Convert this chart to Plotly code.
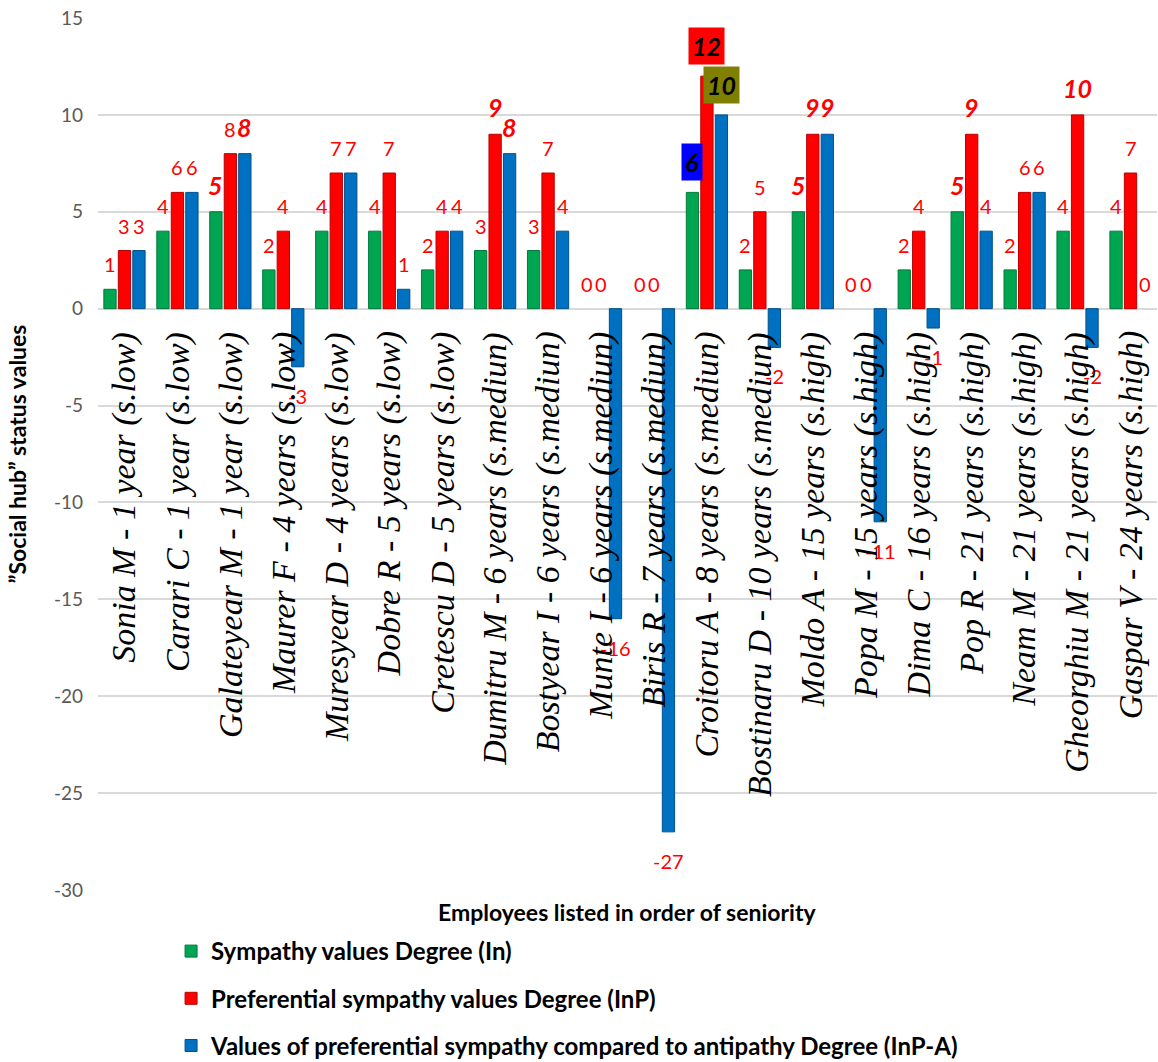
import plotly.graph_objects as go

# Employees, in order of seniority
employees = [
    "Sonia M - 1 year (s.low)",
    "Carari C - 1 year (s.low)",
    "Galateyear M - 1 year (s.low)",
    "Maurer F - 4 years (s.low)",
    "Muresyear D - 4 years (s.low)",
    "Dobre R - 5 years (s.low)",
    "Cretescu D - 5 years (s.low)",
    "Dumitru M - 6 years (s.mediun)",
    "Bostyear I - 6 years (s.mediun)",
    "Munte I - 6 years (s.mediun)",
    "Biris R - 7 years (s.mediun)",
    "Croitoru A - 8 years (s.mediun)",
    "Bostinaru D - 10 years (s.mediun)",
    "Moldo A - 15 years (s.high)",
    "Popa M - 15 years (s.high)",
    "Dima C - 16 years (s.high)",
    "Pop R - 21 years (s.high)",
    "Neam M - 21 years (s.high)",
    "Gheorghiu M - 21 years (s.high)",
    "Gaspar V - 24 years (s.high)",
]

sympathy_in = [1, 4, 5, 2, 4, 4, 2, 3, 3, 0, 0, 6, 2, 5, 0, 2, 5, 2, 4, 4]
preferential_inp = [3, 6, 8, 4, 7, 7, 4, 9, 7, 0, 0, 12, 5, 9, 0, 4, 9, 6, 10, 7]
pref_vs_antipathy = [3, 6, 8, -3, 7, 1, 4, 8, 4, -16, -27, 10, -2, 9, -11, -1, 4, 6, -2, 0]

series_names = [
    "Sympathy values Degree (In)",
    "Preferential sympathy values Degree (InP)",
    "Values of preferential sympathy compared to antipathy Degree (InP-A)",
]

y_ticks = [-30, -25, -20, -15, -10, -5, 0, 5, 10, 15]

# Labels drawn in bold italic (series index -> employee indices)
emphasised = {0: {2, 13, 16}, 1: {7, 13, 16, 18}, 2: {2, 7, 13}}
# Labels drawn as black text on a coloured box (series index -> (employee, box colour))
boxed = {0: (11, "#0000FF"), 1: (11, "#FF0000"), 2: (11, "#808000")}

fill_colors = ["#00A551", "#FF0000", "#0070C0"]
edge_colors = ["#007A3A", "#B80000", "#00508C"]

BARGAP = 0.18
LABEL_FONT = "Lato"

x_idx = list(range(len(employees)))
all_series = [sympathy_in, preferential_inp, pref_vs_antipathy]

fig = go.Figure()
for k, (vals, name) in enumerate(zip(all_series, series_names)):
    fig.add_trace(go.Bar(
        x=x_idx, y=vals, name=f"<b>{name}</b>",
        marker=dict(color=fill_colors[k],
                    line=dict(color=edge_colors[k],
                              width=[1 if v != 0 else 0 for v in vals])),
        legendgroup=f"g{k}",
    ))

annotations = []
slot = (1 - BARGAP) / 3
for k, vals in enumerate(all_series):
    for i, v in enumerate(vals):
        xpos = i + (k - 1) * slot
        shift = 25 if v >= 0 else -29
        if k in boxed and boxed[k][0] == i:
            annotations.append(dict(
                x=xpos, y=v, xref="x", yref="y", text=f"<b><i>{v}</i></b>",
                showarrow=False, yshift=30,
                font=dict(family=LABEL_FONT, size=25, color="black"),
                bgcolor=boxed[k][1], borderpad=3,
            ))
        elif i in emphasised[k]:
            annotations.append(dict(
                x=xpos, y=v, xref="x", yref="y", text=f"<b><i>{v}</i></b>",
                showarrow=False, yshift=shift + 2,
                font=dict(family=LABEL_FONT, size=25, color="#FF0000"),
            ))
        else:
            annotations.append(dict(
                x=xpos, y=v, xref="x", yref="y", text=str(v),
                showarrow=False, yshift=shift,
                font=dict(family=LABEL_FONT, size=20, color="#FF0000"),
            ))

# Category names, rotated, hanging just below the zero line
for i, name in enumerate(employees):
    annotations.append(dict(
        x=i, y=0, xref="x", yref="y", text=f"<i>{name}</i>",
        textangle=-90, showarrow=False, yanchor="top", xanchor="center",
        yshift=-21, font=dict(family="Liberation Serif", size=34, color="black"),
    ))

annotations.append(dict(
    x=0.5, y=-0.025, xref="paper", yref="paper",
    text="<b>Employees listed in order of seniority</b>", showarrow=False,
    xanchor="center", yanchor="middle",
    font=dict(family=LABEL_FONT, size=23, color="black"),
))

fig.update_layout(
    width=1158, height=1062,
    margin=dict(l=98, r=1, t=18, b=172, autoexpand=False),
    paper_bgcolor="white", plot_bgcolor="white",
    barmode="group", bargap=BARGAP, bargroupgap=0.15,
    font=dict(family=LABEL_FONT),
    showlegend=True,
    legend=dict(
        x=0.069, y=(1062 - 929) / 1062, xref="paper", yref="container",
        xanchor="left", yanchor="top",
        orientation="v", tracegroupgap=13,
        font=dict(family=LABEL_FONT, size=24, color="black"),
    ),
    annotations=annotations,
)
fig.update_xaxes(
    range=[-0.5, len(employees) - 0.5], showticklabels=False,
    showgrid=False, zeroline=False, showline=False,
)
fig.update_yaxes(
    range=[-30, 15], tickvals=y_ticks, ticktext=[str(t) for t in y_ticks],
    showgrid=True, gridcolor="#D9D9D9", gridwidth=1.5,
    zeroline=False, showline=False, ticks="",
    ticklabelstandoff=14,
    tickfont=dict(family=LABEL_FONT, size=19, color="#595959"),
    title=dict(text="<b>”Social hub” status values</b>", standoff=20,
               font=dict(family=LABEL_FONT, size=23, color="black")),
)

fig.write_html("out.html")
